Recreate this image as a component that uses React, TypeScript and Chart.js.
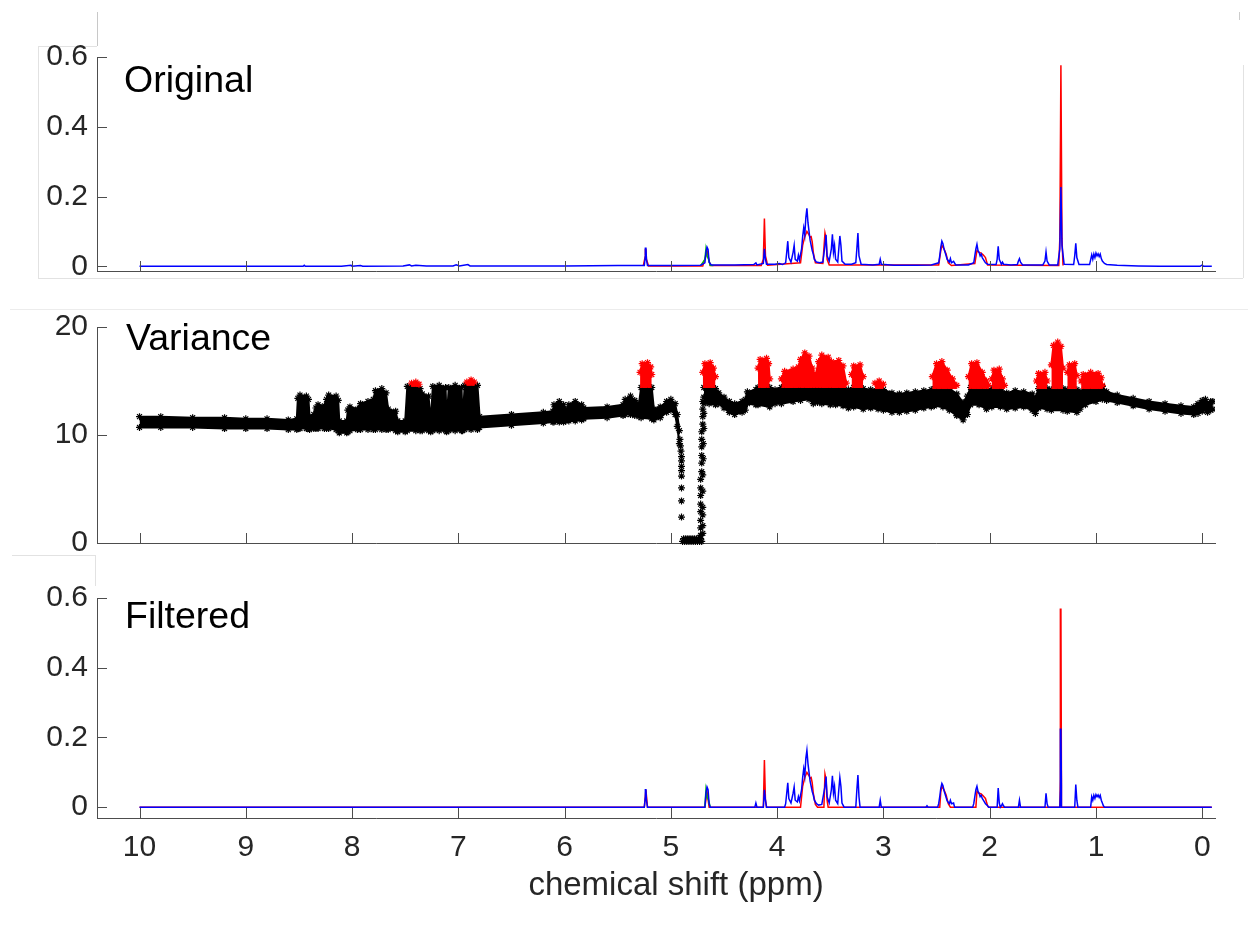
import React, { useEffect, useRef } from 'react';
import { Chart, registerables } from 'chart.js';

Chart.register(...registerables);

const FONT = '"Liberation Sans", Arial, Helvetica, sans-serif';
const AXIS_COLOR = '#4d4d4d';
const TEXT_COLOR = '#262626';

// ---------- axes ----------
const X_MIN = -0.12;
const X_MAX = 10.4;
const X_TICK_VALUES = [0, 1, 2, 3, 4, 5, 6, 7, 8, 9, 10];
const X_TITLE = 'chemical shift (ppm)';
const PANEL_LABELS = ['Original', 'Variance', 'Filtered'];
const SPEC_Y_TICKS = [0, 0.2, 0.4, 0.6];
const VAR_Y_TICKS = [0, 10, 20];

// ---------- Original spectra: [ppm, intensity] ----------
const ORIGINAL_BLUE: number[][] = [
  [10.0, 0.0], [9.0, 0.0], [8.6, 0.0], [8.46, 0.0], [8.45, 0.003], [8.44, 0.0],
  [8.1, 0.0], [8.01, 0.003], [8.0, 0.0], [7.92, 0.002], [7.9, 0.0],
  [7.52, 0.001], [7.46, 0.004], [7.44, 0.001], [7.4, 0.003], [7.3, 0.001],
  [7.05, 0.001], [7.02, 0.004], [6.99, 0.001], [6.91, 0.005], [6.89, 0.001],
  [6.0, 0.001], [5.5, 0.002], [5.25, 0.002], [5.24, 0.03], [5.235, 0.054], [5.23, 0.02], [5.22, 0.002],
  [5.1, 0.002], [4.95, 0.002], [4.72, 0.003], [4.68, 0.01], [4.67, 0.04], [4.66, 0.055], [4.65, 0.048], [4.64, 0.012], [4.62, 0.004],
  [4.4, 0.004], [4.22, 0.005], [4.2, 0.01], [4.19, 0.004], [4.13, 0.008], [4.12, 0.05], [4.11, 0.02], [4.1, 0.006],
  [4.02, 0.006], [3.98, 0.008], [3.95, 0.005], [3.92, 0.01], [3.91, 0.04], [3.9, 0.072], [3.89, 0.025], [3.87, 0.012],
  [3.85, 0.04], [3.84, 0.06], [3.83, 0.02], [3.81, 0.015], [3.8, 0.032], [3.79, 0.018], [3.77, 0.05], [3.76, 0.085],
  [3.75, 0.11], [3.74, 0.09], [3.73, 0.14], [3.72, 0.166], [3.71, 0.125], [3.7, 0.1], [3.69, 0.075], [3.68, 0.06],
  [3.67, 0.045], [3.66, 0.035], [3.65, 0.02], [3.63, 0.012], [3.6, 0.01], [3.57, 0.012],
  [3.55, 0.06], [3.54, 0.09], [3.53, 0.03], [3.51, 0.015], [3.49, 0.05], [3.48, 0.092], [3.47, 0.04], [3.46, 0.06], [3.45, 0.02],
  [3.43, 0.012], [3.42, 0.05], [3.41, 0.087], [3.4, 0.06], [3.39, 0.015], [3.36, 0.006], [3.3, 0.006],
  [3.26, 0.01], [3.25, 0.05], [3.24, 0.095], [3.23, 0.03], [3.21, 0.006], [3.1, 0.004],
  [3.04, 0.006], [3.03, 0.02], [3.02, 0.006], [2.9, 0.003], [2.7, 0.003], [2.55, 0.004],
  [2.48, 0.01], [2.47, 0.03], [2.46, 0.055], [2.45, 0.072], [2.44, 0.065], [2.43, 0.05], [2.42, 0.04], [2.41, 0.03], [2.4, 0.02],
  [2.38, 0.012], [2.37, 0.022], [2.36, 0.01], [2.34, 0.014], [2.32, 0.004],
  [2.2, 0.004], [2.15, 0.01], [2.14, 0.03], [2.13, 0.05], [2.12, 0.063], [2.11, 0.045], [2.1, 0.04], [2.09, 0.03], [2.08, 0.035],
  [2.07, 0.025], [2.06, 0.02], [2.05, 0.015], [2.04, 0.01], [2.02, 0.006],
  [1.94, 0.005], [1.93, 0.02], [1.92, 0.057], [1.91, 0.02], [1.89, 0.006], [1.88, 0.012], [1.87, 0.006], [1.8, 0.004],
  [1.74, 0.005], [1.73, 0.015], [1.72, 0.022], [1.71, 0.012], [1.69, 0.004],
  [1.5, 0.004], [1.48, 0.015], [1.47, 0.041], [1.46, 0.015], [1.44, 0.004],
  [1.36, 0.004], [1.34, 0.05], [1.33, 0.227], [1.32, 0.06], [1.3, 0.006],
  [1.21, 0.005], [1.2, 0.03], [1.19, 0.066], [1.18, 0.025], [1.16, 0.005],
  [1.06, 0.005], [1.04, 0.033], [1.03, 0.02], [1.02, 0.035], [1.01, 0.025], [1.0, 0.038], [0.99, 0.03], [0.98, 0.036],
  [0.97, 0.028], [0.96, 0.035], [0.95, 0.022], [0.94, 0.015], [0.92, 0.008], [0.9, 0.005], [0.8, 0.003], [0.6, 0.001],
  [0.4, 0.0], [0.02, 0.0], [0.0, 0.004], [-0.01, 0.0], [-0.09, 0.0],
];

const ORIGINAL_RED: number[][] = [
  [5.26, 0.001], [5.24, 0.03], [5.235, 0.05], [5.23, 0.02], [5.21, 0.001],
  [4.7, 0.001], [4.67, 0.03], [4.66, 0.045], [4.65, 0.03], [4.63, 0.002],
  [4.15, 0.002], [4.13, 0.02], [4.12, 0.137], [4.11, 0.03], [4.09, 0.003],
  [3.78, 0.01], [3.76, 0.06], [3.74, 0.085], [3.72, 0.1], [3.7, 0.09], [3.69, 0.083], [3.68, 0.085], [3.67, 0.07], [3.66, 0.04], [3.64, 0.01],
  [3.57, 0.008], [3.55, 0.095], [3.54, 0.08], [3.53, 0.02], [3.51, 0.004],
  [2.48, 0.004], [2.46, 0.045], [2.45, 0.06], [2.43, 0.05], [2.41, 0.035], [2.39, 0.01], [2.36, 0.002],
  [2.14, 0.008], [2.12, 0.045], [2.1, 0.04], [2.08, 0.038], [2.06, 0.032], [2.04, 0.025], [2.02, 0.004],
  [1.35, 0.002], [1.34, 0.08], [1.33, 0.576], [1.32, 0.08], [1.31, 0.002],
];

const ORIGINAL_GREEN: number[][] = [
  [4.72, 0.002], [4.68, 0.02], [4.67, 0.05], [4.66, 0.03], [4.645, 0.02], [4.63, 0.003], [4.6, 0.002],
];

// ---------- Filtered spectra: [ppm, intensity] ----------
const FILTERED_BLUE: number[][] = [
  [10.0, 0], [5.25, 0], [5.24, 0.03], [5.235, 0.052], [5.23, 0.02], [5.22, 0],
  [4.68, 0], [4.67, 0.04], [4.66, 0.058], [4.65, 0.05], [4.64, 0.01], [4.63, 0],
  [4.21, 0], [4.2, 0.012], [4.19, 0], [4.13, 0], [4.12, 0.05], [4.11, 0.02], [4.1, 0],
  [3.93, 0], [3.92, 0.01], [3.91, 0.04], [3.9, 0.07], [3.89, 0.025], [3.87, 0.012], [3.85, 0.04], [3.84, 0.058], [3.83, 0.02],
  [3.81, 0.015], [3.8, 0.03], [3.79, 0.018], [3.77, 0.05], [3.76, 0.085], [3.75, 0.11], [3.74, 0.09], [3.73, 0.14], [3.72, 0.163],
  [3.71, 0.125], [3.7, 0.1], [3.69, 0.075], [3.68, 0.06], [3.67, 0.045], [3.66, 0.035], [3.65, 0.02], [3.63, 0.01], [3.61, 0.006], [3.58, 0.008],
  [3.55, 0.06], [3.54, 0.088], [3.53, 0.03], [3.51, 0.012], [3.49, 0.05], [3.48, 0.09], [3.47, 0.04], [3.46, 0.06], [3.45, 0.02],
  [3.43, 0.01], [3.42, 0.05], [3.41, 0.085], [3.4, 0.06], [3.39, 0.012], [3.37, 0],
  [3.26, 0], [3.25, 0.05], [3.24, 0.092], [3.23, 0.03], [3.22, 0],
  [3.04, 0], [3.03, 0.02], [3.02, 0],
  [2.6, 0], [2.59, 0.004], [2.58, 0],
  [2.49, 0], [2.48, 0.01], [2.47, 0.03], [2.46, 0.055], [2.45, 0.068], [2.44, 0.062], [2.43, 0.048], [2.42, 0.038], [2.41, 0.028],
  [2.4, 0.018], [2.38, 0.01], [2.37, 0.02], [2.36, 0.01], [2.34, 0.012], [2.33, 0],
  [2.16, 0], [2.15, 0.01], [2.14, 0.03], [2.13, 0.05], [2.12, 0.06], [2.11, 0.045], [2.1, 0.04], [2.09, 0.03], [2.08, 0.034],
  [2.07, 0.025], [2.06, 0.02], [2.05, 0.015], [2.04, 0.01], [2.02, 0.004], [2.01, 0],
  [1.93, 0], [1.92, 0.055], [1.91, 0.012], [1.9, 0], [1.89, 0.004], [1.88, 0.01], [1.87, 0.004], [1.86, 0],
  [1.73, 0], [1.72, 0.02], [1.71, 0],
  [1.48, 0], [1.47, 0.04], [1.46, 0.01], [1.45, 0],
  [1.34, 0], [1.335, 0.05], [1.33, 0.226], [1.325, 0.06], [1.32, 0],
  [1.2, 0], [1.19, 0.065], [1.18, 0.02], [1.17, 0],
  [1.05, 0], [1.04, 0.03], [1.03, 0.02], [1.02, 0.034], [1.01, 0.025], [1.0, 0.036], [0.99, 0.03], [0.98, 0.035],
  [0.97, 0.028], [0.96, 0.034], [0.95, 0.02], [0.94, 0.012], [0.93, 0.004], [0.92, 0],
  [-0.09, 0],
];

const FILTERED_RED: number[][] = [
  [10.0, 0], [5.25, 0], [5.235, 0.05], [5.22, 0], [4.68, 0], [4.66, 0.045], [4.64, 0],
  [4.13, 0], [4.12, 0.135], [4.11, 0.02], [4.1, 0],
  [3.78, 0], [3.76, 0.06], [3.74, 0.085], [3.72, 0.1], [3.7, 0.09], [3.69, 0.083], [3.68, 0.085], [3.67, 0.07], [3.66, 0.04], [3.64, 0.008], [3.62, 0],
  [3.56, 0], [3.55, 0.095], [3.54, 0.08], [3.53, 0.02], [3.52, 0],
  [2.47, 0], [2.46, 0.045], [2.45, 0.06], [2.43, 0.05], [2.41, 0.035], [2.39, 0.01], [2.37, 0],
  [2.13, 0], [2.12, 0.045], [2.1, 0.04], [2.08, 0.038], [2.06, 0.032], [2.04, 0.025], [2.02, 0.004], [2.01, 0],
  [1.34, 0], [1.335, 0.08], [1.33, 0.57], [1.325, 0.08], [1.32, 0], [-0.09, 0],
];

const FILTERED_GREEN: number[][] = [
  [4.68, 0], [4.67, 0.05], [4.66, 0.03], [4.645, 0.02], [4.63, 0],
];

// ---------- Variance: [ppm, lower edge, upper edge] of the black band ----------
const VARIANCE_LEFT: number[][] = [
  [10.0, 10.7, 11.7], [9.8, 10.7, 11.7], [9.5, 10.7, 11.6], [9.2, 10.6, 11.6], [9.0, 10.6, 11.5], [8.8, 10.6, 11.5],
  [8.6, 10.5, 11.4], [8.52, 10.5, 11.5], [8.51, 10.6, 13.4], [8.49, 10.6, 13.7], [8.43, 10.6, 13.6], [8.41, 10.6, 13.3],
  [8.4, 10.5, 11.7], [8.36, 10.6, 11.9], [8.34, 10.6, 12.5], [8.32, 10.6, 12.8], [8.26, 10.6, 12.7], [8.24, 10.6, 13.3],
  [8.22, 10.6, 13.7], [8.15, 10.5, 13.6], [8.13, 10.4, 13.2], [8.12, 10.2, 11.3], [8.05, 10.2, 11.3], [8.04, 10.3, 12.3],
  [8.02, 10.4, 12.6], [7.95, 10.5, 12.4], [7.92, 10.5, 12.9], [7.85, 10.5, 13.1], [7.8, 10.5, 13.3], [7.78, 10.5, 14.1],
  [7.72, 10.5, 14.3], [7.68, 10.5, 13.9], [7.66, 10.5, 12.4], [7.59, 10.4, 12.2], [7.57, 10.3, 11.3], [7.5, 10.3, 11.3],
  [7.48, 10.4, 14.5], [7.4, 10.4, 14.7], [7.36, 10.4, 14.3], [7.34, 10.4, 13.8], [7.28, 10.4, 13.6], [7.26, 10.3, 11.2],
  [7.24, 10.4, 14.5], [7.18, 10.4, 14.6], [7.12, 10.4, 14.4], [7.11, 10.3, 11.2], [7.09, 10.4, 14.4], [7.03, 10.4, 14.6],
  [6.97, 10.4, 14.4], [6.96, 10.4, 11.3], [6.94, 10.5, 14.6], [6.88, 10.5, 14.8], [6.82, 10.5, 14.6], [6.8, 10.7, 11.7],
  [6.5, 10.9, 11.9], [6.2, 11.1, 12.1], [6.11, 11.2, 12.2], [6.1, 11.2, 12.8], [6.05, 11.2, 13.1], [6.01, 11.2, 12.8],
  [5.99, 11.3, 12.3], [5.96, 11.3, 12.8], [5.9, 11.3, 13.1], [5.84, 11.4, 12.8], [5.82, 11.5, 12.5], [5.6, 11.6, 12.6],
  [5.45, 11.8, 12.8], [5.43, 11.9, 13.3], [5.38, 11.9, 13.6], [5.34, 11.8, 13.2], [5.3, 11.7, 12.9], [5.28, 11.6, 14.4],
  [5.18, 11.5, 14.4], [5.16, 11.4, 12.4], [5.1, 11.6, 12.6], [5.04, 12.1, 13.1], [5.0, 12.3, 13.3], [4.96, 11.9, 12.9],
  [4.94, 10.8, 11.9], [4.92, 9.2, 10.4],
];

const VARIANCE_RIGHT: number[][] = [
  [4.69, 12.9, 14.4], [4.64, 12.9, 14.4], [4.58, 12.8, 14.3], [4.55, 12.9, 13.9], [4.5, 12.5, 13.5], [4.45, 12.1, 13.1],
  [4.4, 11.9, 12.9], [4.33, 12.1, 13.1], [4.3, 12.3, 13.3], [4.28, 12.9, 14.0], [4.2, 12.8, 14.2], [4.18, 12.8, 14.4],
  [4.07, 12.6, 14.4], [4.02, 12.9, 14.2], [3.96, 12.9, 14.4], [3.85, 13.1, 14.5], [3.78, 13.2, 14.5], [3.7, 13.3, 14.6],
  [3.66, 12.9, 14.9], [3.62, 13.0, 14.6], [3.58, 12.9, 14.4], [3.5, 12.8, 14.4], [3.45, 12.8, 14.4], [3.38, 12.7, 14.3],
  [3.33, 12.5, 14.2], [3.28, 12.6, 14.4], [3.19, 12.4, 14.3], [3.12, 12.5, 14.2], [3.05, 12.4, 14.3], [3.0, 12.3, 14.2],
  [2.92, 12.1, 13.9], [2.85, 12.1, 13.8], [2.78, 12.2, 13.9], [2.7, 12.3, 14.0], [2.62, 12.5, 14.1], [2.55, 12.6, 14.2],
  [2.52, 12.7, 14.3], [2.44, 12.6, 14.4], [2.38, 12.3, 14.3], [2.31, 11.8, 13.8], [2.25, 11.4, 13.0], [2.21, 11.9, 13.6],
  [2.18, 12.8, 14.4], [2.1, 12.8, 14.4], [2.03, 12.4, 14.1], [1.98, 12.6, 14.3], [1.9, 12.6, 14.2], [1.84, 12.4, 13.9],
  [1.76, 12.5, 14.1], [1.68, 12.6, 14.0], [1.6, 12.3, 13.8], [1.57, 12.0, 13.4], [1.54, 12.5, 14.3], [1.46, 12.4, 14.3],
  [1.42, 12.3, 14.2], [1.31, 12.3, 14.3], [1.27, 12.2, 14.2], [1.18, 12.1, 14.2], [1.15, 12.4, 14.0], [1.1, 12.8, 14.4],
  [1.0, 13.1, 14.5], [0.94, 13.3, 14.5], [0.9, 13.2, 14.0], [0.8, 13.0, 13.7], [0.65, 12.7, 13.4], [0.5, 12.4, 13.1],
  [0.35, 12.2, 12.9], [0.2, 12.0, 12.7], [0.08, 11.9, 12.6], [0.04, 12.0, 12.9], [0.0, 12.2, 13.2], [-0.03, 12.4, 13.3],
  [-0.05, 12.1, 12.9], [-0.08, 12.3, 13.1], [-0.1, 12.4, 13.1],
];

// red (above-threshold) variance blocks: [ppm, lower edge, upper edge]
const VARIANCE_RED_BLOCKS: number[][][] = [
  [[7.44, 14.5, 14.8], [7.4, 14.5, 14.9], [7.37, 14.5, 14.7]],
  [[6.92, 14.6, 14.9], [6.88, 14.6, 15.1], [6.85, 14.6, 14.9]],
  [[5.29, 14.4, 15.8], [5.27, 14.4, 16.6], [5.22, 14.4, 16.7], [5.19, 14.4, 16.3], [5.18, 14.4, 15.6]],
  [[4.7, 14.4, 15.8], [4.68, 14.4, 16.6], [4.63, 14.4, 16.7], [4.6, 14.4, 16.2], [4.58, 14.4, 15.4]],
  [[4.18, 14.4, 16.2], [4.16, 14.4, 17.0], [4.1, 14.4, 17.1], [4.08, 14.4, 16.6], [4.07, 14.4, 15.2]],
  [[3.96, 14.4, 15.2], [3.93, 14.4, 15.9], [3.85, 14.4, 16.1], [3.8, 14.4, 16.3], [3.78, 14.4, 17.0], [3.74, 14.4, 17.6],
   [3.7, 14.4, 17.3], [3.67, 14.4, 16.2], [3.64, 14.4, 15.5], [3.61, 14.4, 16.8], [3.58, 14.4, 17.4], [3.52, 14.4, 17.2],
   [3.49, 14.4, 16.8], [3.42, 14.4, 16.9], [3.38, 14.4, 16.4], [3.35, 14.4, 14.8]],
  [[3.3, 14.4, 15.6], [3.28, 14.4, 16.4], [3.22, 14.4, 16.5], [3.19, 14.4, 15.4]],
  [[3.08, 14.3, 14.8], [3.04, 14.3, 15.0], [3.0, 14.3, 14.7]],
  [[2.54, 14.3, 15.4], [2.5, 14.3, 16.6], [2.45, 14.3, 16.8], [2.4, 14.3, 16.0], [2.35, 14.3, 15.2], [2.31, 14.3, 14.6]],
  [[2.2, 14.3, 15.4], [2.17, 14.3, 16.6], [2.12, 14.3, 16.7], [2.07, 14.3, 15.8], [2.03, 14.3, 15.0], [2.01, 14.3, 14.6]],
  [[1.98, 14.3, 15.2], [1.96, 14.3, 16.0], [1.91, 14.3, 16.1], [1.88, 14.3, 15.2], [1.86, 14.3, 14.6]],
  [[1.56, 14.3, 15.0], [1.54, 14.3, 15.7], [1.48, 14.3, 15.8], [1.46, 14.3, 15.0]],
  [[1.42, 14.3, 16.5], [1.4, 14.3, 18.3], [1.36, 14.3, 18.6], [1.33, 14.3, 18.2], [1.31, 14.3, 16.2]],
  [[1.27, 14.3, 15.8], [1.25, 14.3, 16.5], [1.2, 14.3, 16.6], [1.18, 14.3, 15.5]],
  [[1.14, 14.3, 15.0], [1.12, 14.3, 15.6], [1.05, 14.3, 15.8], [0.98, 14.3, 15.7], [0.95, 14.3, 15.3], [0.94, 14.3, 14.6]],
];

// individual variance markers in the water region: [ppm, variance]
const VARIANCE_WATER: number[][] = [
  [4.915, 9.6], [4.91, 9.0], [4.905, 8.5], [4.9, 8.0], [4.9, 7.6], [4.9, 7.1], [4.9, 6.7], [4.9, 6.2], [4.9, 5.1], [4.9, 3.9], [4.9, 2.4],
  [4.89, 0.15], [4.87, 0.15], [4.85, 0.15], [4.83, 0.15], [4.81, 0.15], [4.79, 0.15], [4.77, 0.15], [4.75, 0.15], [4.73, 0.15], [4.71, 0.15],
  [4.88, 0.4], [4.86, 0.4], [4.84, 0.4], [4.82, 0.4], [4.8, 0.4], [4.78, 0.4], [4.76, 0.4], [4.74, 0.4], [4.72, 0.4],
  [4.72, 0.7], [4.72, 1.4], [4.72, 2.1], [4.72, 2.9], [4.72, 3.6], [4.72, 4.4], [4.72, 5.1], [4.72, 5.9], [4.71, 6.6], [4.71, 7.4],
  [4.71, 8.1], [4.71, 8.9], [4.71, 9.6], [4.71, 10.3], [4.7, 11.0], [4.7, 11.7], [4.7, 12.4], [4.7, 13.1],
  [4.7, 0.9], [4.7, 1.6], [4.7, 2.6], [4.7, 3.3], [4.7, 4.8], [4.7, 6.3], [4.695, 7.8], [4.695, 9.2], [4.69, 10.6], [4.69, 12.0], [4.69, 13.5],
];

// ---------- helpers ----------
const toPoints = (rows: number[][], col = 1) =>
  rows.map((r) => ({ x: r[0], y: r[col] })).sort((a, b) => a.x - b.x);

const innerTicks = {
  id: 'innerTicks',
  afterDraw(chart: any) {
    const { ctx, chartArea: a, scales } = chart;
    ctx.save();
    ctx.strokeStyle = AXIS_COLOR;
    ctx.lineWidth = 1;
    const xs = scales.x;
    xs.ticks.forEach((t: any) => {
      const px = Math.round(xs.getPixelForValue(t.value)) + 0.5;
      ctx.beginPath();
      ctx.moveTo(px, a.bottom);
      ctx.lineTo(px, a.bottom - 10);
      ctx.stroke();
    });
    const ys = scales.y;
    ys.ticks.forEach((t: any) => {
      const py = Math.round(ys.getPixelForValue(t.value)) + 0.5;
      ctx.beginPath();
      ctx.moveTo(a.left, py);
      ctx.lineTo(a.left + 10, py);
      ctx.stroke();
    });
    ctx.restore();
  },
};

function makeOptions(p: {
  yMin: number; yMax: number; yTicks: number[]; padTop: number; padBottom: number; showX: boolean; xHeight: number;
}) {
  const tickFont = { family: FONT, size: 30 };
  return {
    responsive: false,
    animation: false,
    devicePixelRatio: 1,
    events: [],
    layout: { padding: { top: p.padTop, bottom: p.padBottom, left: 0, right: 33 } },
    plugins: { legend: { display: false }, tooltip: { enabled: false }, title: { display: false } },
    scales: {
      x: {
        type: 'linear',
        reverse: true,
        min: X_MIN,
        max: X_MAX,
        afterBuildTicks: (s: any) => { s.ticks = X_TICK_VALUES.map((v) => ({ value: v })); },
        afterFit: (s: any) => { s.height = p.xHeight; },
        grid: { display: false, drawTicks: false },
        border: { display: true, color: AXIS_COLOR, width: 1 },
        ticks: {
          display: p.showX, padding: 12, color: TEXT_COLOR, font: tickFont,
          maxRotation: 0, autoSkip: false, callback: (v: any) => String(v),
        },
      },
      y: {
        type: 'linear',
        min: p.yMin,
        max: p.yMax,
        afterBuildTicks: (s: any) => { s.ticks = p.yTicks.map((v) => ({ value: v })); },
        afterFit: (s: any) => { s.width = 97; },
        grid: { display: false, drawTicks: false },
        border: { display: true, color: AXIS_COLOR, width: 1 },
        ticks: { padding: 9, color: TEXT_COLOR, font: tickFont, callback: (v: any) => String(v) },
      },
    },
  };
}

function spectrumDatasets(blue: number[][], green: number[][], red: number[][]) {
  const line = (rows: number[][], color: string, order: number) => ({
    data: toPoints(rows),
    borderColor: color,
    borderWidth: 1.5,
    pointRadius: 0,
    fill: false,
    tension: 0,
    order,
  });
  return [line(blue, '#0000ff', 1), line(green, '#00c000', 2), line(red, '#ff0000', 3)];
}

function varianceDatasets() {
  const ds: any[] = [];
  const band = (rows: number[][]) => {
    const common = {
      borderColor: '#000000',
      backgroundColor: '#000000',
      borderWidth: 2,
      pointStyle: 'star',
      pointRadius: 3.5,
      pointBorderColor: '#000000',
      pointBorderWidth: 1.2,
      tension: 0,
      order: 3,
    };
    ds.push({ ...common, data: toPoints(rows, 2), fill: '+1' });
    ds.push({ ...common, data: toPoints(rows, 1), fill: false });
  };
  band(VARIANCE_LEFT);
  band(VARIANCE_RIGHT);
  VARIANCE_RED_BLOCKS.forEach((blk) => {
    const common = {
      borderColor: '#ff0000',
      backgroundColor: '#ff0000',
      pointStyle: 'star',
      pointBorderColor: '#ff0000',
      pointBorderWidth: 1.2,
      tension: 0,
      order: 2,
    };
    ds.push({ ...common, data: toPoints(blk, 2), fill: '+1', borderWidth: 2, pointRadius: 3.5 });
    ds.push({ ...common, data: toPoints(blk, 1), fill: false, borderWidth: 1, pointRadius: 0 });
  });
  ds.push({
    data: toPoints(VARIANCE_WATER),
    showLine: false,
    pointStyle: 'star',
    pointRadius: 3.5,
    pointBorderColor: '#000000',
    pointBorderWidth: 1.2,
    borderColor: '#000000',
    fill: false,
    clip: 8,
    order: 1,
  });
  return ds;
}

function ChartCanvas({ top, height, build }: { top: number; height: number; build: () => any }) {
  const ref = useRef<HTMLCanvasElement>(null);
  useEffect(() => {
    const chart = new Chart(ref.current as HTMLCanvasElement, build());
    return () => chart.destroy();
  }, []);
  return (
    <canvas
      ref={ref}
      width={1248}
      height={height}
      style={{ position: 'absolute', left: 0, top, width: 1248, height }}
    />
  );
}

const labelStyle = (left: number, top: number): React.CSSProperties => ({
  position: 'absolute', left, top, fontFamily: FONT, fontSize: 37.5, lineHeight: '37px', color: '#000', whiteSpace: 'nowrap',
});

const faint = (left: number, top: number, width: number, height: number, color = '#e2e2e2'): React.CSSProperties => ({
  position: 'absolute', left, top, width, height, background: color,
});

export default function App() {
  return (
    <div style={{ position: 'absolute', left: 0, top: 0, width: 1248, height: 934, background: '#fff', overflow: 'hidden' }}>
      {/* faint frame remnants around the first panel */}
      <div style={faint(97, 12, 1, 34, '#c8c8c8')} />
      <div style={faint(38, 46, 59, 1)} />
      <div style={faint(38, 46, 1, 232)} />
      <div style={faint(38, 278, 1205, 1)} />
      <div style={faint(1243, 65, 1, 213)} />
      <div style={faint(1239, 12, 1, 8, '#cccccc')} />
      <div style={faint(10, 309, 1238, 1, '#ececec')} />
      <div style={faint(12, 555, 83, 1)} />
      <div style={faint(95, 555, 1, 31)} />
      <ChartCanvas
        top={0}
        height={300}
        build={() => ({
          type: 'line',
          data: { datasets: spectrumDatasets(ORIGINAL_BLUE, ORIGINAL_GREEN, ORIGINAL_RED) },
          options: makeOptions({ yMin: -0.0135, yMax: 0.6, yTicks: SPEC_Y_TICKS, padTop: 57, padBottom: 29, showX: false, xHeight: 0 }),
          plugins: [innerTicks],
        })}
      />
      <ChartCanvas
        top={300}
        height={270}
        build={() => ({
          type: 'line',
          data: { datasets: varianceDatasets() },
          options: makeOptions({ yMin: 0, yMax: 20, yTicks: VAR_Y_TICKS, padTop: 21, padBottom: 27, showX: false, xHeight: 0 }),
          plugins: [innerTicks],
        })}
      />
      <ChartCanvas
        top={550}
        height={384}
        build={() => ({
          type: 'line',
          data: { datasets: spectrumDatasets(FILTERED_BLUE, FILTERED_GREEN, FILTERED_RED) },
          options: makeOptions({ yMin: -0.031, yMax: 0.6, yTicks: SPEC_Y_TICKS, padTop: 48, padBottom: 0, showX: true, xHeight: 116 }),
          plugins: [innerTicks],
        })}
      />
      <div style={labelStyle(124, 61)}>{PANEL_LABELS[0]}</div>
      <div style={labelStyle(126, 319)}>{PANEL_LABELS[1]}</div>
      <div style={labelStyle(125, 597)}>{PANEL_LABELS[2]}</div>
      <div
        style={{
          position: 'absolute', left: 426, width: 500, top: 867, textAlign: 'center',
          fontFamily: FONT, fontSize: 33, lineHeight: '33px', color: TEXT_COLOR, whiteSpace: 'nowrap',
        }}
      >
        {X_TITLE}
      </div>
    </div>
  );
}
